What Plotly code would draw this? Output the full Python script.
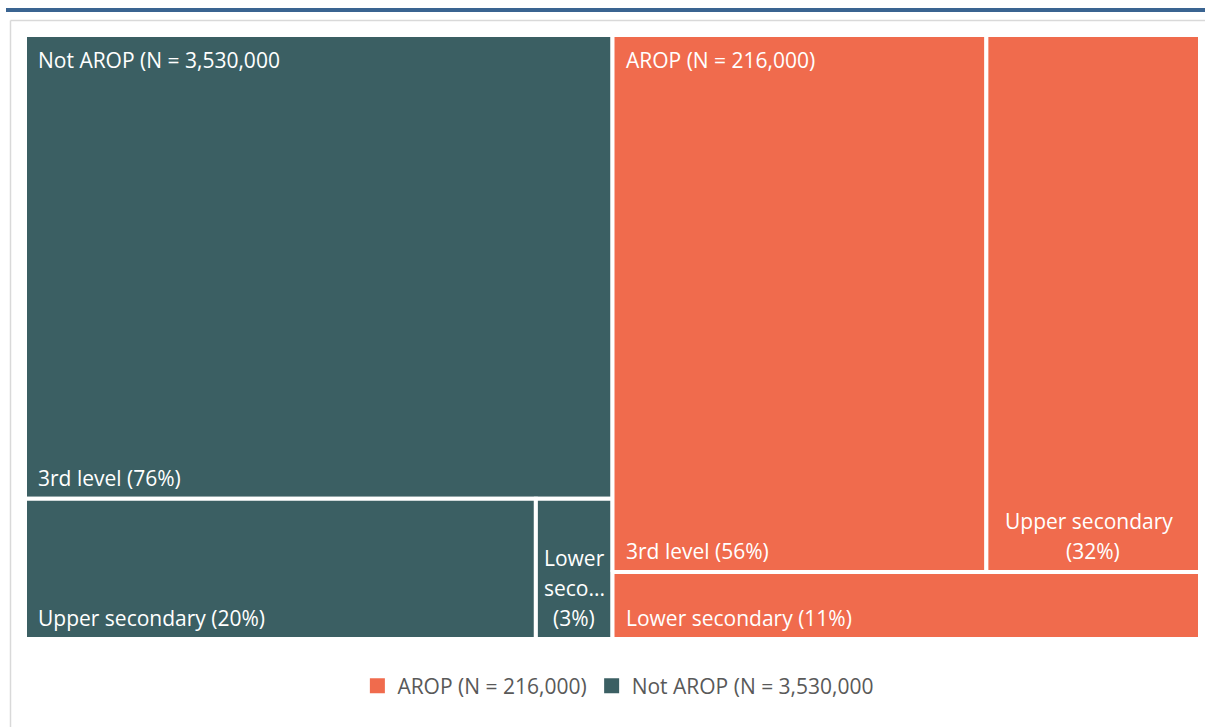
import plotly.graph_objects as go

# ---- data -------------------------------------------------------------
group_names = ["Not AROP", "AROP"]
group_titles = ["Not AROP (N = 3,530,000", "AROP (N = 216,000)"]

not_arop_levels = ["3rd level", "Upper secondary", "Lower secondary"]
not_arop_values = [76, 20, 3]

arop_levels = ["3rd level", "Upper secondary", "Lower secondary"]
arop_values = [56, 32, 11]

legend_order = ["AROP", "Not AROP"]

# ---- styling ----------------------------------------------------------
colors = {"Not AROP": "#3B5F63", "AROP": "#F06B4D"}
top_row_count = {"Not AROP": 1, "AROP": 2}
# labels that are wrapped / shortened inside narrow tiles
wrapped_labels = {
    ("Not AROP", "Lower secondary"): ["Lower", "seco..."],
    ("AROP", "Upper secondary"): ["Upper secondary"],
}
FONT = "Open Sans, Segoe UI, sans-serif"
LABEL_SIZE = 21
LINE_STEP = 30

series = {
    "Not AROP": (not_arop_levels, not_arop_values),
    "AROP": (arop_levels, arop_values),
}

fig = go.Figure()
annotations = []

x_start = 0.0
total_width = sum(sum(series[g][1]) for g in group_names)

for g, title in zip(group_names, group_titles):
    levels, values = series[g]
    group_sum = sum(values)
    k = top_row_count[g]
    top, bottom = list(range(k)), list(range(k, len(values)))
    top_h = sum(values[i] for i in top) / group_sum
    rows = [(top, 1 - top_h, 1.0), (bottom, 0.0, 1 - top_h)]

    for idx_list, y0, y1 in rows:
        row_sum = sum(values[i] for i in idx_list)
        cx = x_start
        for i in idx_list:
            w = group_sum * values[i] / row_sum
            x0, x1 = cx, cx + w
            cx = x1
            fig.add_trace(go.Scatter(
                x=[x0, x1, x1, x0, x0], y=[y0, y0, y1, y1, y0],
                mode="lines", fill="toself", fillcolor=colors[g],
                line=dict(color="white", width=4),
                hoveron="fills", name=f"{levels[i]} ({values[i]}%)",
                showlegend=False, legendgroup=g,
            ))
            pct = f"({values[i]}%)"
            key = (g, levels[i])
            if key in wrapped_labels:
                lines = wrapped_labels[key] + [pct]
                n = len(lines)
                for j, txt in enumerate(lines):
                    annotations.append(dict(
                        x=(x0 + x1) / 2, y=y0, xref="x", yref="y",
                        text=txt, showarrow=False, xanchor="center",
                        yanchor="middle", borderpad=0,
                        xshift=-4 if len(txt) > 8 else 0,
                        yshift=21 + LINE_STEP * (n - 1 - j),
                        font=dict(color="white", size=LABEL_SIZE, family=FONT),
                    ))
            else:
                annotations.append(dict(
                    x=x0, y=y0, xref="x", yref="y",
                    text=f"{levels[i]} {pct}", showarrow=False,
                    xanchor="left", yanchor="middle", borderpad=0,
                    xshift=12, yshift=21,
                    font=dict(color="white", size=LABEL_SIZE, family=FONT),
                ))
    # group header in the top-left corner
    annotations.append(dict(
        x=x_start, y=1.0, xref="x", yref="y", text=title,
        showarrow=False, xanchor="left", yanchor="middle", borderpad=0,
        xshift=12, yshift=-25,
        font=dict(color="white", size=LABEL_SIZE, family=FONT),
    ))
    x_start += group_sum

# legend entries
for g in legend_order:
    fig.add_trace(go.Scatter(
        x=[None], y=[None], mode="markers",
        marker=dict(symbol="square", size=15, color=colors[g]),
        name=group_titles[group_names.index(g)], legendgroup=g,
        showlegend=True,
    ))

W, H = 1205, 727
ML, MR, MT, MB = 25, 5, 35, 88
PW, PH = W - ML - MR, H - MT - MB


def px_x(p):
    return (p - ML) / PW


def px_y(p):
    return (H - MB - p) / PH


shapes = [
    # blue rule along the top
    dict(type="rect", xref="paper", yref="paper",
         x0=px_x(6), x1=px_x(1206), y0=px_y(12), y1=px_y(8),
         fillcolor="#3A6491", line=dict(width=0), layer="below"),
    # light grey frame
    dict(type="line", xref="paper", yref="paper",
         x0=px_x(10.5), x1=px_x(1206), y0=px_y(20.5), y1=px_y(20.5),
         line=dict(color="#D9D9D9", width=1.5), layer="below"),
    dict(type="line", xref="paper", yref="paper",
         x0=px_x(10.5), x1=px_x(10.5), y0=px_y(20.5), y1=px_y(728),
         line=dict(color="#D9D9D9", width=1.5), layer="below"),
]

fig.update_layout(
    width=W, height=H,
    margin=dict(l=ML, r=MR, t=MT, b=MB),
    paper_bgcolor="white", plot_bgcolor="white",
    xaxis=dict(range=[0, total_width], visible=False, fixedrange=True),
    yaxis=dict(range=[0, 1], visible=False, fixedrange=True),
    annotations=annotations,
    shapes=shapes,
    showlegend=True,
    legend=dict(orientation="h", x=0.505, xanchor="center",
                y=px_y(686), yanchor="middle",
                font=dict(family=FONT, size=21, color="#595959"),
                itemclick=False, itemdoubleclick=False),
    font=dict(family=FONT),
)

fig.write_html("out.html")
